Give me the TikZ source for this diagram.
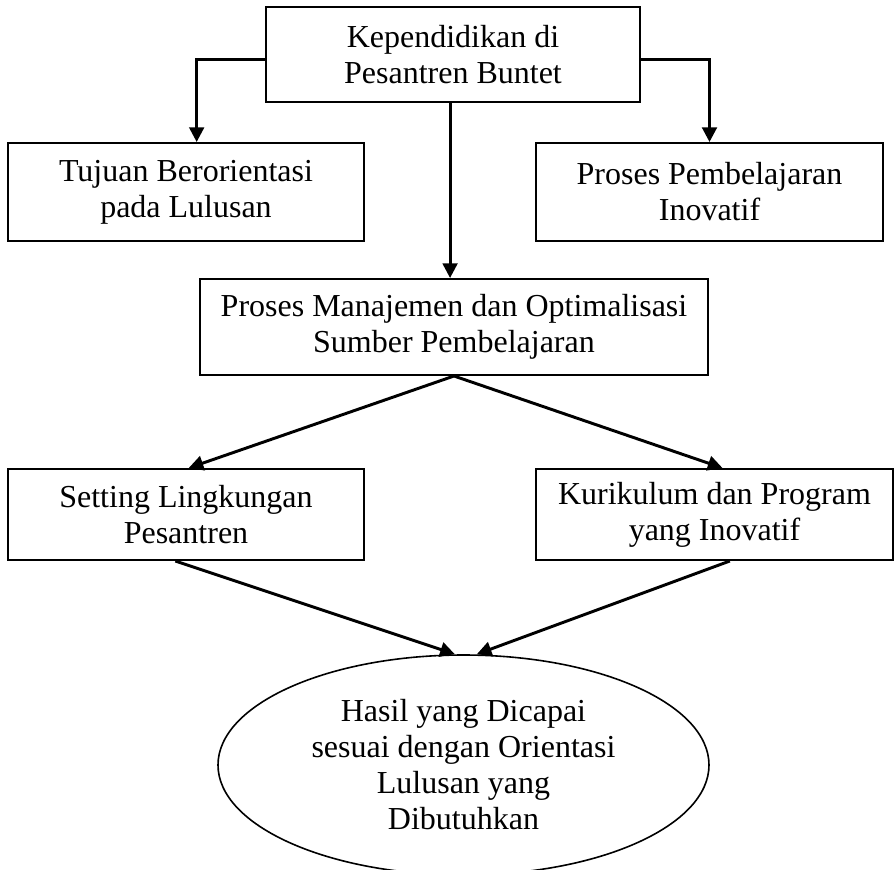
\documentclass[tikz,border=0pt]{standalone}
\usepackage{fontspec}
\setmainfont{Liberation Serif}
\usetikzlibrary{shapes.geometric, positioning, arrows.meta}

\begin{document}
\begin{tikzpicture}[x=0.75pt, y=-0.75pt,
    kotak/.style={draw, line width=1.5pt, align=center, inner sep=0pt,
        font=\fontsize{24}{27}\selectfont},
    panah/.style={line width=2.2pt, -{Triangle[length=11pt,width=11pt]}}]
        \useasboundingbox (0,0) rectangle (896,869);

        % Top box
        \node[kotak, minimum width=280.5pt, minimum height=71.25pt] (kepen) at (453,54.5) {Kependidikan di\\Pesantren Buntet};

        % Second row
        \node[kotak, minimum width=267pt, minimum height=73.5pt] (tujuan) at (186,192) {Tujuan Berorientasi\\pada Lulusan};
        \node[kotak, minimum width=260.25pt, minimum height=73.5pt] (proses) at (709.5,192) {Proses Pembelajaran\\Inovatif};

        % Middle box
        \node[kotak, minimum width=381pt, minimum height=72pt] (manajemen) at (454,327) {Proses Manajemen dan Optimalisasi\\Sumber Pembelajaran};

        % Fourth row
        \node[kotak, minimum width=267pt, minimum height=68.25pt] (setting) at (186,514.5) {Setting Lingkungan\\Pesantren};
        \node[kotak, minimum width=267.75pt, minimum height=68.25pt] (kurikulum) at (714.5,514.5) {Kurikulum dan Program\\yang Inovatif};

        % Result ellipse
        \node[kotak, ellipse, line width=1.2pt, minimum width=368.25pt, minimum height=165pt] (hasil) at (463.5,765) {Hasil yang Dicapai\\sesuai dengan Orientasi\\Lulusan yang\\Dibutuhkan};

        % Arrows
        \draw[panah] ([yshift=-3.4pt]kepen.west) -| ([xshift=8pt]tujuan.north);
        \draw[panah] ([yshift=-3.4pt]kepen.east) -| (proses.north);
        \draw[panah] ([xshift=-2.2pt]kepen.south) -- ([xshift=-2.2pt]kepen.south |- manajemen.north);
        \draw[panah] (manajemen.south) -- ([xshift=2pt]setting.north);
        \draw[panah] (manajemen.south) -- ([xshift=6pt]kurikulum.north);
        \draw[panah] ([xshift=-8pt]setting.south) -- ([xshift=-6.5pt]hasil.north);
        \draw[panah] ([xshift=11.5pt]kurikulum.south) -- ([xshift=10pt]hasil.north);

\end{tikzpicture}
\end{document}
